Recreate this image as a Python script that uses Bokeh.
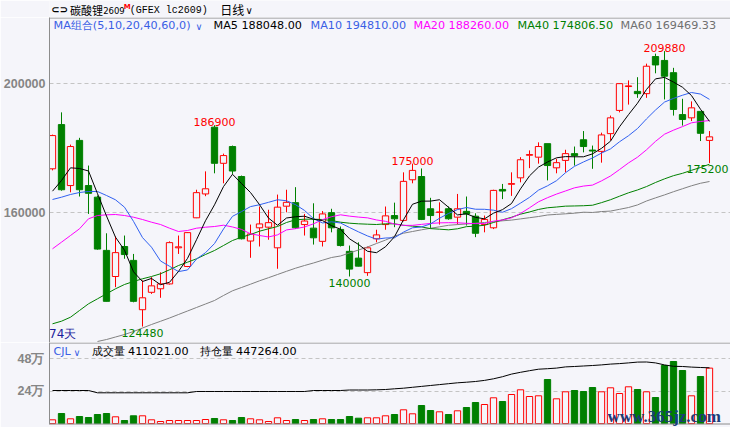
import numpy as np
from bokeh.plotting import figure
from bokeh.layouts import column
from bokeh.models import Range1d, FixedTicker, Span, Label, ColumnDataSource
from bokeh.core.properties import value
from bokeh.embed import file_html
from bokeh.resources import INLINE

# ---------------- data ----------------
opens = [173400, 187100, 168200, 182200, 168200, 164600, 148100, 140000, 149300, 145000,
         129700, 135100, 136200, 137700, 148900, 143100, 158200, 165600, 186300, 175100,
         180300, 171000, 151000, 155100, 155300, 148900, 161800, 162900, 156100, 155000,
         150900, 159800, 154600, 147800, 145700, 141200, 151700, 156100, 158900, 157400,
         170000, 171000, 161000, 159900, 161000, 158400, 160200, 158700, 156100, 155100,
         167000, 168600, 170600, 177600, 177000, 181200, 173700, 176000, 178100, 182400,
         179200, 178800, 184300, 191500, 198900, 197400, 196700, 208200, 207000, 203200,
         190200, 189200, 191200, 182200]
highs = [184000, 190900, 180900, 183000, 174400, 165100, 153400, 152400, 152700, 147000,
         138800, 139800, 141300, 150900, 152700, 153800, 166900, 172600, 186900, 178100,
         180600, 171300, 156100, 161700, 160700, 165400, 166900, 167700, 159400, 162700,
         160300, 161000, 155500, 149600, 150600, 149300, 154500, 161700, 162900, 172300,
         175000, 173500, 164400, 163000, 161700, 165600, 164800, 159600, 158900, 166900,
         168700, 172300, 177000, 179100, 181600, 181200, 176500, 179300, 180300, 185100,
         180600, 184600, 189900, 199900, 200800, 201800, 206000, 209100, 209880, 204700,
         195100, 194300, 191200, 185100]
lows = [172900, 166600, 166100, 164800, 159400, 148300, 132200, 136700, 145500, 132000,
        124480, 134600, 133400, 137500, 147000, 142900, 158100, 164900, 172000, 168900,
        171800, 151500, 145800, 149300, 151400, 142400, 159900, 154800, 152700, 149900,
        149300, 153700, 149300, 140000, 143100, 140200, 150600, 154500, 155300, 157100,
        168900, 157500, 154800, 156100, 157600, 156100, 155800, 152200, 153700, 154700,
        164000, 165000, 169200, 173600, 175000, 169800, 172000, 172300, 174400, 178500,
        173400, 175300, 182200, 190900, 193300, 195400, 195400, 203000, 194900, 189900,
        186800, 188200, 182000, 175200]
closes = [183700, 166900, 180300, 166900, 165800, 148500, 132300, 147400, 146800, 132300,
          133400, 137100, 137700, 150500, 149200, 153600, 166000, 167200, 175100, 177500,
          172700, 151700, 153200, 156300, 156700, 161500, 163000, 155100, 157200, 152000,
          159400, 155100, 149600, 142300, 143200, 148900, 152900, 158800, 157900, 169500,
          172900, 157700, 158900, 160000, 157900, 161000, 159400, 153400, 157700, 166700,
          166500, 168800, 176200, 177800, 180300, 174400, 175300, 178100, 177500, 180300,
          178900, 183900, 189200, 199800, 199100, 196700, 205200, 205600, 202100, 191800,
          188700, 192300, 184400, 183300]
volumes = [28150, 74810, 35550, 52590, 45180, 67400, 74810, 50370, 22960, 57770,
           57770, 28150, 15550, 22960, 22960, 22960, 22960, 30370, 37780, 28150,
           22960, 45180, 35550, 28150, 15550, 42960, 22960, 30370, 22960, 30370,
           35550, 30370, 30370, 52590, 40000, 42960, 42960, 57770, 67400, 102220,
           72590, 134070, 97030, 87400, 67400, 94810, 119250, 156290, 141470, 191100,
           163690, 215540, 250360, 200730, 205910, 326650, 183690, 235540, 245170, 237760,
           267390, 235540, 265170, 222950, 272580, 252580, 235540, 193320, 430350, 459970,
           393310, 205910, 348870, 411021]
open_interest = [265300, 265300, 265300, 265300, 265300, 246900, 246900, 246900, 246900, 246900,
                 246900, 246900, 246900, 246900, 246900, 246900, 257300, 257300, 257300, 257300,
                 257300, 257300, 257300, 257300, 257300, 257300, 257300, 257300, 257300, 265300,
                 265300, 265300, 265300, 269300, 269300, 269300, 270900, 273300, 278900, 283800,
                 291000, 298200, 305400, 312600, 319800, 327000, 331800, 337500, 346300, 359100,
                 375900, 396800, 411200, 424000, 436000, 440100, 444900, 454500, 457700, 461700,
                 465700, 470500, 476900, 480900, 486500, 493000, 493800, 486500, 470500, 459300,
                 457700, 452900, 449700, 447264]
# moving-average values before a full window exists
ma5_head = [166450, 169770, 173700, 173490]
ma10_head = [163880, 164590, 165430, 166050, 166360, 166360, 165120, 163780, 161490]
ma20_head = [148590, 150640, 152710, 154790, 157890, 158910, 159130, 159220, 158910, 158390,
             157670, 156840, 156120, 154980, 153950, 154260, 154980, 155290, 155500]
ma40_head = [125330, 126140, 127380, 129460, 131530, 133080, 134640, 136190, 137520, 138450,
             139290, 140000, 140840, 142080, 143410, 144430, 145490, 146820, 148060, 149610,
             151160, 152190, 153020, 154050, 154790, 155500, 156740, 157580, 157770, 157770,
             157670, 157360, 156840, 156530, 156340, 156220, 156120, 156340, 156340]
ma60_head = [np.nan, np.nan, np.nan, np.nan, np.nan,
             119850, 120460, 121240, 122010, 122950, 124030, 125120, 126110, 127130, 128220,
             129300, 130390, 131470, 132560, 134110, 135570, 136590, 137610, 138660, 139630,
             140620, 141610, 142570, 143410, 144190, 145050, 145890, 146360, 147290, 148220,
             149150, 150230, 151290, 152500, 153430, 153950, 154480, 154950, 155410, 155880,
             156100, 156280, 156530, 156740, 156990, 157270, 157490, 157860, 158230, 158600,
             159070, 159260, 159440, 159630]
peak_idx = [18, 40, 68]
trough_idx = [10, 33]
last_trough_idx = [73]
price_ticks = [160000, 200000]
price_tick_labels = ["160000", "200000"]
vol_ticks = [240000, 480000]
vol_tick_labels = ["24万", "48万"]
ma_header = [("MA5 188048.00", "#000000", 213), ("MA10 194810.00", "#3a5fe5", 310),
             ("MA20 188260.00", "#ff00ff", 413), ("MA40 174806.50", "#008000", 517),
             ("MA60 169469.33", "#707070", 620)]

# ---------------- style ----------------
BG = "#f5f5fa"
UP = "#ff0000"
DOWN = "#008000"
GRID = "#c4c4c4"
FRAME = "#8c8c8c"
AXTXT = "#858585"
BLUE = "#3a5fe5"
FONT = "DejaVu Sans"
CJK = "Noto Sans CJK SC"
W = 730

n = len(closes)
xs = list(range(n))

# pixel helpers (page pixels == reference pixels)
def xpx(px):
    return (px - 52) / 9.0

P_PER_PX = 40000 / 129.0
def ypx(py):
    return 160000 + (211.5 - py) * P_PER_PX

V_PER_PX = 240000 / 32.4
def vpx(py):
    return (423.1 - py) * V_PER_PX

OI_RATIO = 1.0821

def ident(v):
    return v

def moving_average(head, period):
    out = list(head)
    for i in range(len(head), n):
        out.append(sum(closes[i - period + 1:i + 1]) / period)
    return np.array(out, dtype=float)

ma5 = moving_average(ma5_head, 5)
ma10 = moving_average(ma10_head, 10)
ma20 = moving_average(ma20_head, 20)
ma40 = moving_average(ma40_head, 40)
ma60 = moving_average(ma60_head, 60)

up = [c >= o for o, c in zip(opens, closes)]
src = ColumnDataSource(dict(
    x=xs, h=highs, l=lows,
    bt=[max(o, c) for o, c in zip(opens, closes)],
    bb=[min(o, c) for o, c in zip(opens, closes)],
    col=[UP if u else DOWN for u in up],
    fill=[BG if u else DOWN for u in up],
    vol=volumes, oi=open_interest,
))

X_RANGE = Range1d(xpx(49), xpx(W))


def add_label(fig, text, px, py, color, size="11.2px", font=FONT, style="normal",
              xconv=xpx, yconv=ypx, align="left", baseline="middle"):
    fig.add_layout(Label(x=xconv(px), y=yconv(py), text=text, text_color=color,
                         text_font=font, text_font_size=size, text_font_style=style,
                         text_align=align, text_baseline=baseline))


def style_axis(a, ticks, labels, standoff):
    a.ticker = FixedTicker(ticks=ticks)
    a.major_label_overrides = dict(zip(ticks, labels))
    a.major_tick_line_color = None
    a.minor_tick_line_color = None
    a.major_tick_out = 0
    a.major_tick_in = 0
    a.major_label_standoff = standoff
    a.major_label_text_font = "Liberation Sans"
    a.major_label_text_font_style = "bold"
    a.major_label_text_font_size = "12.5px"
    a.major_label_text_color = AXTXT
    a.axis_line_color = FRAME


# ---------------- title strip ----------------
pt = figure(width=W, height=17, x_range=Range1d(0, W), y_range=Range1d(17, 0),
            output_backend="svg", toolbar_location=None, x_axis_location=None,
            y_axis_location=None, title_location=None,
            min_border_left=0, min_border_right=0, min_border_top=0, min_border_bottom=0,
            background_fill_color=BG, border_fill_color=BG, outline_line_color=None)
pt.xgrid.visible = False
pt.ygrid.visible = False
add_label(pt, "⊂⊃", 2, 9, "#000000", size="10px", style="bold", xconv=ident, yconv=ident)
add_label(pt, "碳酸锂", 22, 9, "#000000", size="11px", font=CJK, xconv=ident, yconv=ident)
add_label(pt, "2609", 57.5, 10, "#000000", size="8.5px", xconv=ident, yconv=ident)
add_label(pt, "M", 79.5, 6, UP, size="7px", style="bold", xconv=ident, yconv=ident)
add_label(pt, "(GFEX lc2609)", 86, 9.5, "#000000", size="10px", font="Liberation Mono",
          xconv=ident, yconv=ident)
add_label(pt, "日线", 183, 9, "#000000", size="12px", font=CJK, xconv=ident, yconv=ident)
add_label(pt, "∨", 210, 9.5, "#000000", size="10px", xconv=ident, yconv=ident)

# ---------------- price pane ----------------
p = figure(width=W, height=325, x_range=X_RANGE, y_range=Range1d(ypx(342), ypx(17)),
           output_backend="svg", toolbar_location=None, x_axis_location=None,
           title_location=None,
           min_border_left=49, min_border_right=0, min_border_top=0, min_border_bottom=0,
           background_fill_color=BG, border_fill_color=BG, outline_line_color=None)
style_axis(p.yaxis[0], price_ticks, price_tick_labels, 4)
p.ygrid.ticker = FixedTicker(ticks=price_ticks)
p.ygrid.grid_line_color = GRID
p.ygrid.grid_line_dash = "4 3"
p.xgrid.visible = False

p.add_layout(Span(location=ypx(17.5), dimension="width", line_color=FRAME, line_width=1))

p.segment(x0="x", y0="h", x1="x", y1="bt", line_color="col", line_width=1, source=src)
p.segment(x0="x", y0="bb", x1="x", y1="l", line_color="col", line_width=1, source=src)
p.vbar(x="x", width=0.7, top="bt", bottom="bb", fill_color="fill", line_color="col",
       line_width=1, source=src)

p.line(xs, ma60, line_color="#808080", line_width=1)
p.line(xs, ma40, line_color="#008000", line_width=1)
p.line(xs, ma20, line_color="#ff00ff", line_width=1)
p.line(xs, ma10, line_color="#3060f0", line_width=1)
p.line(xs, ma5, line_color="#000000", line_width=1)

# extreme-value labels
pk = ColumnDataSource(dict(x=peak_idx, y=[highs[i] for i in peak_idx],
                           t=[str(highs[i]) for i in peak_idx]))
p.text(x="x", y="y", text="t", source=pk, text_align="center", text_baseline="alphabetic",
       y_offset=-3, text_color=UP, text_font=value(FONT), text_font_size=value("11px"))
tr = ColumnDataSource(dict(x=trough_idx, y=[lows[i] for i in trough_idx],
                           t=[str(lows[i]) for i in trough_idx]))
p.text(x="x", y="y", text="t", source=tr, text_align="center", text_baseline="top",
       y_offset=2, text_color=DOWN, text_font=value(FONT), text_font_size=value("11px"))
tr2 = ColumnDataSource(dict(x=last_trough_idx, y=[lows[i] for i in last_trough_idx],
                            t=[str(lows[i]) for i in last_trough_idx]))
p.text(x="x", y="y", text="t", source=tr2, text_align="right", text_baseline="top",
       x_offset=19, y_offset=2, text_color=DOWN, text_font=value(FONT),
       text_font_size=value("11px"))

# MA header row
add_label(p, "MA组合(5,10,20,40,60,0)", 53, 25, BLUE)
add_label(p, "∨", 195, 25.5, BLUE, size="9.5px")
for txt, colr, px in ma_header:
    add_label(p, txt, px, 25, colr)

add_label(p, "74天", 48.5, 333, "#1c1c9c", size="12px")

# ---------------- volume pane ----------------
pv = figure(width=W, height=85, x_range=X_RANGE, y_range=Range1d(vpx(427), vpx(342)),
            output_backend="svg", toolbar_location=None, x_axis_location=None,
            title_location=None,
            min_border_left=49, min_border_right=0, min_border_top=0, min_border_bottom=0,
            background_fill_color=BG, border_fill_color=BG, outline_line_color=None)
pv.extra_y_ranges = {"oi": Range1d(vpx(427) * OI_RATIO, vpx(342) * OI_RATIO)}
style_axis(pv.yaxis[0], vol_ticks, vol_tick_labels, 5)
pv.yaxis[0].bounds = (vpx(423.5), vpx(342))
pv.ygrid.ticker = FixedTicker(ticks=vol_ticks)
pv.ygrid.grid_line_color = GRID
pv.ygrid.grid_line_dash = "4 3"
pv.xgrid.visible = False

pv.add_layout(Span(location=vpx(342.5), dimension="width", line_color=FRAME, line_width=1))
pv.add_layout(Span(location=vpx(423.5), dimension="width", line_color=FRAME, line_width=1))

pv.vbar(x="x", width=0.7, top="vol", bottom=0, fill_color="fill", line_color="col",
        line_width=1, source=src)
pv.line(x="x", y="oi", source=src, line_color="#000000", line_width=1, y_range_name="oi")

add_label(pv, "CJL", 53, 351, BLUE, yconv=vpx)
add_label(pv, "∨", 73, 351.5, BLUE, size="9.5px", yconv=vpx)
add_label(pv, "成交量 411021.00", 91, 351, "#000000", yconv=vpx)
add_label(pv, "持仓量 447264.00", 199, 351, "#000000", yconv=vpx)
add_label(pv, "www.365jz.com", 607, 416, "#1d3c78", size="17px", font="Liberation Serif",
          style="bold", yconv=vpx, baseline="alphabetic")

layout = column(pt, p, pv, spacing=0)
open("out.html", "w").write(file_html(layout, INLINE))
